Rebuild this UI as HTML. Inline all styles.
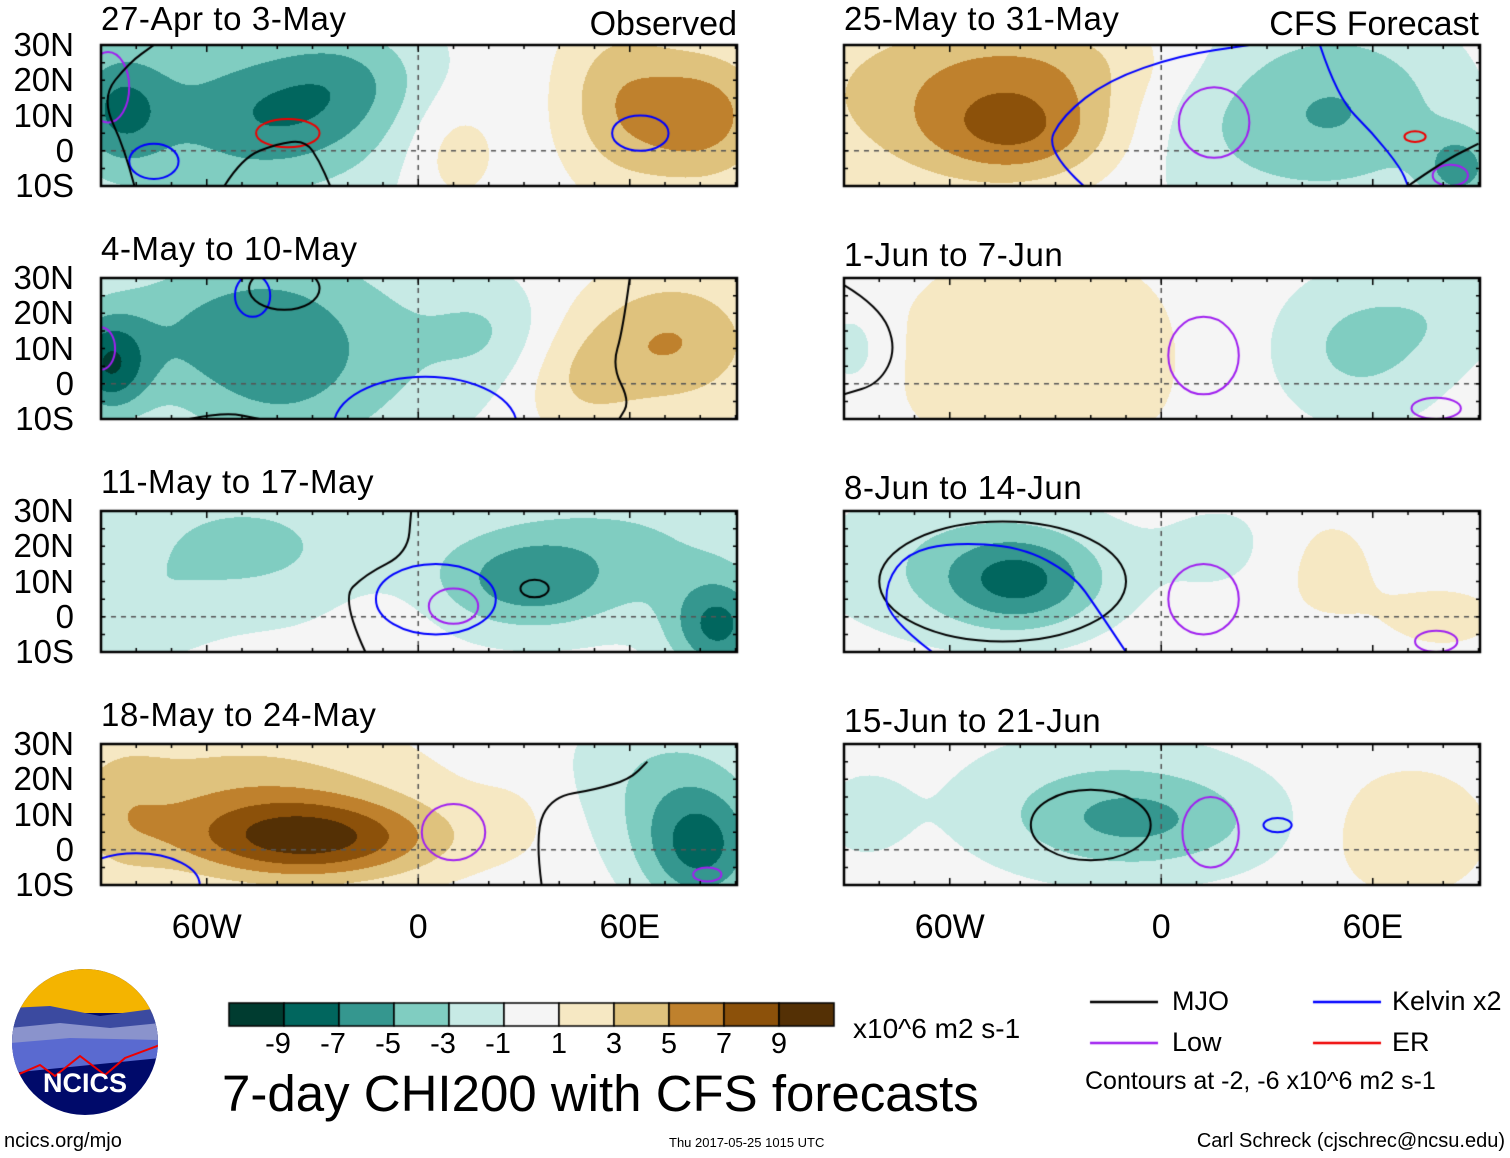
<!DOCTYPE html>
<html><head><meta charset="utf-8"><style>
body{margin:0;background:#fff;width:1510px;height:1158px;position:relative;overflow:hidden;font-family:"Liberation Sans",sans-serif;color:#000}
.t{position:absolute;white-space:nowrap;line-height:1}
canvas{position:absolute;left:0;top:0}
</style></head><body>
<canvas id="cv" width="1510" height="1158"></canvas>
<div id="txt"></div>
<svg style="position:absolute;left:10px;top:968px" width="150" height="150">
<defs><clipPath id="lc"><circle cx="75" cy="74" r="73"/></clipPath></defs>
<g clip-path="url(#lc)">
<rect width="150" height="150" fill="#000a6a"/>
<rect width="150" height="45" fill="#f4b400"/>
<path d="M0 40 L40 38 L90 48 L150 40 L150 70 L0 80Z" fill="#3b4aa0"/>
<path d="M0 60 L50 55 L100 60 L150 55 L150 80 L0 90Z" fill="#8a93cc"/>
<path d="M0 75 L60 70 L150 72 L150 90 L0 105Z" fill="#5a6ad0"/>
<path d="M0 110 L30 97 L45 108 L70 88 L95 107 L115 90 L150 77" fill="none" stroke="#e00" stroke-width="2"/>
</g>
<text x="75" y="124" text-anchor="middle" font-family="Liberation Sans" font-weight="bold" font-size="27" fill="#fff">NCICS</text>
</svg>
<script>
const levels=[-9,-7,-5,-3,-1,1,3,5,7,9];
const binColors=["#003c30","#01665e","#35978f","#80cdc1","#c7eae5","#f5f5f5","#f6e8c3","#dfc27d","#bf812d","#8c510a","#543005"];
// blobs: [lon, lat, sigmaLon, sigmaLat, amplitude]
const blobsP1=[[-85,12,10,12,-5],[-40,10,22,12,-4],[-55,10,40,30,-3],[-20,22,15,10,-2.5],[10,0,10,12,2.5],[80,10,15,14,6],[55,15,12,18,3.5]];
const blobsP2=[[-88,5,8,10,-7],[-40,8,22,25,-4.5],[-70,15,25,15,-3],[-5,10,25,20,-2],[20,15,12,10,-2],[72,12,18,14,5],[45,0,12,12,2.5]];
const blobsP3=[[-50,20,30,15,-3.5],[30,10,18,10,-5],[85,-3,10,10,-7],[60,20,30,15,-3],[-85,0,15,10,-2],[-10,-5,10,10,1]];
const blobsP4=[[-30,3,25,8,8],[-50,15,35,15,4],[-85,10,10,15,2],[80,0,12,12,-7],[70,20,20,15,-3],[30,10,10,10,1]];
const blobsP5=[[-40,5,20,10,5],[-60,15,40,18,3.5],[-30,25,30,10,2.5],[20,10,30,20,-3],[55,12,22,18,-3.5],[85,-5,8,8,-5]];
const blobsP6=[[-35,8,40,30,1.7],[-88,10,6,8,-2.5],[55,10,18,15,-3.5],[80,20,15,10,-1.5]];
const blobsP7=[[-40,10,15,9,-5.5],[-55,15,30,15,-3],[20,20,15,10,-1.5],[45,15,12,12,1.8],[80,0,15,8,1.5]];
const blobsP8=[[-5,8,25,10,-4],[-20,15,30,15,-2],[70,5,15,12,3],[-85,10,10,10,-1.5]];
// contours (ellipses): [lon, lat, rxDeg, ryDeg, color]
const contP1=[[-75,-3,7,5,"#00f"],[63,5,8,5,"#00f"],[-37,5,9,4,"#e00"],[-88,18,6,10,"#a020f0"]];
const contP2=[[-47,25,5,6,"#00f"],[-38,27,10,6,"#000"],[2,-12,26,14,"#00f"],[-90,10,4,6,"#a020f0"]];
const contP3=[[5,5,17,10,"#00f"],[10,3,7,5,"#a020f0"],[33,8,4,2.5,"#000"]];
const contP4=[[10,5,9,8,"#a020f0"],[-80,-10,18,9,"#00f"],[82,-7,4,2,"#a020f0"]];
const contP5=[[15,8,10,10,"#a020f0"],[72,4,3,1.5,"#e00"],[82,-7,5,3,"#a020f0"]];
const contP6=[[12,8,10,11,"#a020f0"],[78,-7,7,3,"#a020f0"]];
const contP7=[[-45,10,35,17,"#000"],[12,5,10,10,"#a020f0"],[78,-7,6,3,"#a020f0"]];
const contP8=[[-20,7,17,10,"#000"],[14,5,8,10,"#a020f0"],[33,7,4,2,"#00f"]];
// contour polylines: {c:color, p:[lon,lat,...]}
const linesP1=[{c:"#000",p:[-80,-12,-83,0,-90,15,-82,25,-75,30]},{c:"#000",p:[-55,-10,-50,-2,-40,2,-32,3,-28,-3,-25,-10]}];
const linesP2=[{c:"#000",p:[60,30,58,15,55,5,60,-5,57,-10]},{c:"#000",p:[-65,-10,-55,-8,-45,-10]}];
const linesP3=[{c:"#000",p:[-15,-10,-22,5,-15,12,-3,18,-2,30]}];
const linesP4=[{c:"#000",p:[35,-10,33,5,38,15,50,17,60,20,65,25]}];
const linesP5=[{c:"#00f",p:[-22,-10,-33,0,-28,10,-15,20,5,27,25,30]},{c:"#00f",p:[45,30,50,15,60,5,68,-5,70,-10]},{c:"#000",p:[70,-10,80,-3,90,2]}];
const linesP6=[{c:"#000",p:[-90,28,-80,22,-75,10,-80,0,-90,-3]}];
const linesP7=[{c:"#00f",p:[-65,-10,-78,0,-78,10,-72,18,-60,21,-40,20,-25,12,-18,2,-10,-10]}];
const linesP8=[];
const panelBlobs=[blobsP1,blobsP2,blobsP3,blobsP4,blobsP5,blobsP6,blobsP7,blobsP8];
const panelConts=[contP1,contP2,contP3,contP4,contP5,contP6,contP7,contP8];
const panelLines=[linesP1,linesP2,linesP3,linesP4,linesP5,linesP6,linesP7,linesP8];
const titles=["27-Apr to 3-May","4-May to 10-May","11-May to 17-May","18-May to 24-May","25-May to 31-May","1-Jun to 7-Jun","8-Jun to 14-Jun","15-Jun to 21-Jun"];
const latTicks=["30N","20N","10N","0","10S"];
const lonTicks=["60W","0","60E"];

const W=636,H=141,PX=3.525;
const colX=[101,844],rowY=[45,278,511,744];
const cv=document.getElementById('cv'),ctx=cv.getContext('2d');
ctx.fillStyle='#fff';ctx.fillRect(0,0,1510,1158);
function xs(x0,lon){return x0+(lon+90)*PX;}
function ys(y0,lat){return y0+(30-lat)*PX;}
function hex(c){return[parseInt(c.slice(1,3),16),parseInt(c.slice(3,5),16),parseInt(c.slice(5,7),16)];}
const rgb=binColors.map(hex);
const txt=document.getElementById('txt');
function addText(s,x,y,size,name,anchor,ls){
 const d=document.createElement('div');d.className='t';d.textContent=s;
 d.style.fontSize=size+'px';d.style.top=y+'px';
 if(ls)d.style.letterSpacing=ls+'px';
 if(anchor==='r'){d.style.right=(1510-x)+'px';}else if(anchor==='c'){d.style.left=x+'px';d.style.transform='translateX(-50%)';}else d.style.left=x+'px';
 
 
 txt.appendChild(d);return d;}
for(let p=0;p<8;p++){
 const x0=colX[p<4?0:1],y0=rowY[p%4];
 const img=ctx.createImageData(W,H);
 const bl=panelBlobs[p];
 for(let j=0;j<H;j++){const lat=30-j/PX;
  for(let i=0;i<W;i++){const lon=-90+i/PX;let v=0;
   for(const b of bl){const dx=(lon-b[0])/b[2],dy=(lat-b[1])/b[3];v+=b[4]*Math.exp(-0.5*(dx*dx+dy*dy));}
   let k=0;while(k<levels.length&&v>levels[k])k++;
   const c=rgb[k],o=(j*W+i)*4;img.data[o]=c[0];img.data[o+1]=c[1];img.data[o+2]=c[2];img.data[o+3]=255;}}
 ctx.putImageData(img,x0,y0);
 ctx.save();ctx.beginPath();ctx.rect(x0,y0,W,H);ctx.clip();
 ctx.strokeStyle='#555';ctx.lineWidth=1.5;ctx.setLineDash([5,5]);
 ctx.beginPath();ctx.moveTo(x0,ys(y0,0));ctx.lineTo(x0+W,ys(y0,0));
 ctx.moveTo(xs(x0,0),y0);ctx.lineTo(xs(x0,0),y0+H);ctx.stroke();ctx.setLineDash([]);
 for(const c of panelConts[p]){ctx.strokeStyle=c[4];ctx.lineWidth=2;ctx.beginPath();
  ctx.ellipse(xs(x0,c[0]),ys(y0,c[1]),c[2]*PX,c[3]*PX,0,0,Math.PI*2);ctx.stroke();}
 for(const L of panelLines[p]){ctx.strokeStyle=L.c;ctx.lineWidth=2;ctx.beginPath();
  const pts=[];for(let k=0;k<L.p.length;k+=2)pts.push([xs(x0,L.p[k]),ys(y0,L.p[k+1])]);
  ctx.moveTo(pts[0][0],pts[0][1]);
  for(let k=1;k<pts.length-1;k++){const mx=(pts[k][0]+pts[k+1][0])/2,my=(pts[k][1]+pts[k+1][1])/2;ctx.quadraticCurveTo(pts[k][0],pts[k][1],mx,my);}
  const e=pts[pts.length-1];ctx.lineTo(e[0],e[1]);ctx.stroke();}
 ctx.restore();
 ctx.strokeStyle='#000';ctx.lineWidth=2.5;ctx.strokeRect(x0,y0,W,H);
 ctx.lineWidth=1.5;ctx.beginPath();
 for(let lon=-90;lon<=90;lon+=10){const x=xs(x0,lon),L=(lon%60===0)?7:4;ctx.moveTo(x,y0);ctx.lineTo(x,y0+L);ctx.moveTo(x,y0+H);ctx.lineTo(x,y0+H-L);}
 for(let lat=-10;lat<=30;lat+=5){const y=ys(y0,lat);ctx.moveTo(x0,y);ctx.lineTo(x0+4,y);ctx.moveTo(x0+W,y);ctx.lineTo(x0+W-4,y);}
 ctx.stroke();
 const ty=(p%4===0)?y0-43:(p<4?y0-46:y0-40);
 addText(titles[p],x0,ty,33,'panel-title-'+(p+1),null,0.6);
 if(p<4){latTicks.forEach((s,i)=>{addText(s,74,ys(y0,30-10*i)-17,33,'lat-label','r');});}
}
addText("Observed",737,7,34,'observed-label','r');
addText("CFS Forecast",1479,7,34,'cfs-forecast-label','r');
[0,1].forEach(c=>{lonTicks.forEach((s,i)=>{addText(s,xs(colX[c],-60+60*i),910,34,'lon-label','c');});});
for(let i=0;i<binColors.length;i++){ctx.fillStyle=binColors[i];ctx.fillRect(229+i*55,1003,55,23);ctx.strokeStyle='#000';ctx.lineWidth=1.5;ctx.strokeRect(229+i*55,1003,55,23);}
const cbLabels=["-9","-7","-5","-3","-1","1","3","5","7","9"];
cbLabels.forEach((s,i)=>{addText(s,229+55*(i+1)+(s.length>1?-6:0),1030,29,'colorbar-label','c');});
addText("x10^6 m2 s-1",853,1015,28,'colorbar-units');
addText("7-day CHI200 with CFS forecasts",222,1068,51,'main-title');
addText("ncics.org/mjo",4,1131,20,'ncics-url');
addText("Thu 2017-05-25 1015 UTC",669,1136,13,'timestamp');
addText("Carl Schreck (cjschrec@ncsu.edu)",1505,1131,20,'author-credit','r');
const legend=[["MJO","#000",1090,1002,1172],["Low","#a020f0",1090,1043,1172],["Kelvin x2","#00f",1313,1002,1392],["ER","#e00",1313,1043,1392]];
legend.forEach(l=>{ctx.strokeStyle=l[1];ctx.lineWidth=2.5;ctx.beginPath();ctx.moveTo(l[2],l[3]);ctx.lineTo(l[2]+68,l[3]);ctx.stroke();addText(l[0],l[4],l[3]-14,27,'legend-entry');});
addText("Contours at -2, -6 x10^6 m2 s-1",1085,1069,25,'contour-note');
</script>
</body></html>
